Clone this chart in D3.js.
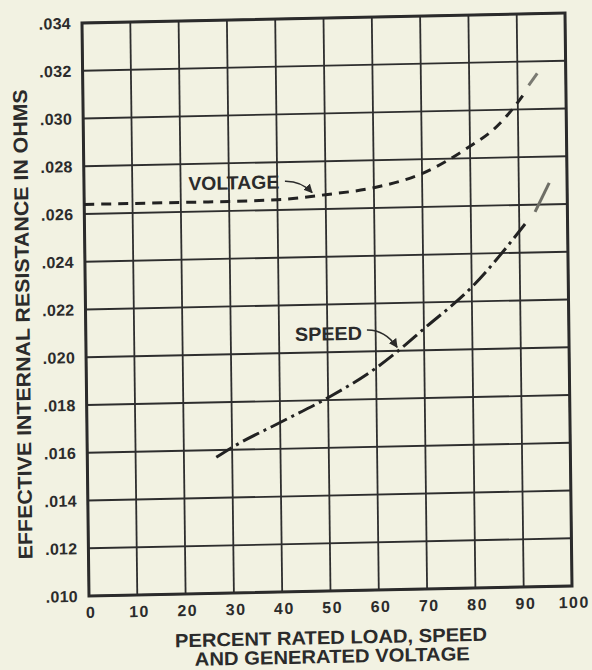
<!DOCTYPE html>
<html>
<head>
  <script type="text/javascript" src="https://cdn.jsdelivr.net/npm/d3@7/dist/d3.min.js" charset="UTF-8"></script>
  <title>Effective internal resistance</title>
  <style>
    body { margin: 0; background: #f2f2e2; }
    text { font-family: "Liberation Sans", Arial, sans-serif; font-weight: bold; fill: #2b2b2b; }
  </style>
</head>

<body>

<svg xmlns="http://www.w3.org/2000/svg" width="592" height="670"></svg>

<script type="text/javascript">

  // values
  var loadTicks = [ 0, 10, 20, 30, 40, 50, 60, 70, 80, 90, 100 ];
  var ohmTicks = [ .010, .012, .014, .016, .018, .020, .022, .024, .026, .028, .030, .032, .034 ];
  var ohmLabels = [ ".010", ".012", ".014", ".016", ".018", ".020", ".022", ".024", ".026", ".028", ".030", ".032", ".034" ];

  var voltageLoad = [ 0, 10, 20, 30, 40, 50, 60, 70, 80, 85, 90, 91.5 ];
  var voltageOhms = [ .0264, .0264, .0264, .0264, .02643, .0266, .02685, .0274, .0285, .0292, .0303, .0307 ];
  // faint pencilled continuation at the top end
  var voltageTailLoad = [ 92.3, 94.1 ];
  var voltageTailOhms = [ .0310, .0315 ];

  var speedLoad = [ 26.7, 30, 40, 50, 60, 64, 70, 80, 90, 91.2 ];
  var speedOhms = [ .0157, .0161, .0171, .0181, .0193, .0199, .0209, .0226, .0249, .0252 ];
  var speedTailLoad = [ 93.3, 96.3 ];
  var speedTailOhms = [ .0257, .0269 ];

  var width = 483, height = 573;

  var svg = d3.select( "svg" );

  // the printed grid sits a little askew on the page
  var plot = svg.append( "g" )
      .attr( "transform", "matrix(1,-0.0207,0.0122,1,82,23)" );

  var x = d3.scaleLinear().domain( [ 0, 100 ] ).range( [ 0, width ] );
  var y = d3.scaleLinear().domain( [ .010, .034 ] ).range( [ height, 0 ] );

  function zip( xs, ys )
  {
    return xs.map( function ( v, i ) { return [ v, ys[i] ]; } );
  }

  var line = d3.line()
      .x( function ( d ) { return x( d[0] ); } )
      .y( function ( d ) { return y( d[1] ); } )
      .curve( d3.curveMonotoneX );

  // grid
  plot.selectAll( "line.vgrid" ).data( loadTicks ).enter()
      .append( "line" )
      .attr( "class", "vgrid" )
      .attr( "x1", function ( d ) { return x( d ); } )
      .attr( "x2", function ( d ) { return x( d ); } )
      .attr( "y1", 0 )
      .attr( "y2", height )
      .attr( "stroke", "#2e2e2e" )
      .attr( "stroke-width", 1.8 );

  plot.selectAll( "line.hgrid" ).data( ohmTicks ).enter()
      .append( "line" )
      .attr( "class", "hgrid" )
      .attr( "x1", 0 )
      .attr( "x2", width )
      .attr( "y1", function ( d ) { return y( d ); } )
      .attr( "y2", function ( d ) { return y( d ); } )
      .attr( "stroke", "#2e2e2e" )
      .attr( "stroke-width", 1.8 );

  plot.append( "rect" )
      .attr( "x", 0 )
      .attr( "y", 0 )
      .attr( "width", width )
      .attr( "height", height )
      .attr( "fill", "none" )
      .attr( "stroke", "#2b2b2b" )
      .attr( "stroke-width", 3 );

  // tick labels
  plot.selectAll( "text.ylab" ).data( ohmTicks ).enter()
      .append( "text" )
      .attr( "class", "ylab" )
      .attr( "x", -11 )
      .attr( "y", function ( d ) { return y( d ); } )
      .attr( "dy", "0.36em" )
      .attr( "text-anchor", "end" )
      .attr( "font-size", 16 )
      .attr( "letter-spacing", 0.3 )
      .text( function ( d, i ) { return ohmLabels[i]; } );

  plot.selectAll( "text.xlab" ).data( loadTicks ).enter()
      .append( "text" )
      .attr( "class", "xlab" )
      .attr( "x", function ( d ) { return x( d ) + 2; } )
      .attr( "y", height + 22 )
      .attr( "text-anchor", "middle" )
      .attr( "font-size", 16 )
      .attr( "letter-spacing", 1.5 )
      .text( function ( d ) { return d; } );

  // axis titles
  plot.append( "text" )
      .attr( "x", width / 2 )
      .attr( "y", height + 53 )
      .attr( "text-anchor", "middle" )
      .attr( "font-size", 19 )
      .attr( "textLength", 312 )
      .attr( "lengthAdjust", "spacingAndGlyphs" )
      .text( "PERCENT RATED LOAD, SPEED" );

  plot.append( "text" )
      .attr( "x", width / 2 + 1 )
      .attr( "y", height + 72 )
      .attr( "text-anchor", "middle" )
      .attr( "font-size", 19 )
      .attr( "textLength", 275 )
      .attr( "lengthAdjust", "spacingAndGlyphs" )
      .text( "AND GENERATED VOLTAGE" );

  plot.append( "text" )
      .attr( "transform", "translate(-56,300) rotate(-90)" )
      .attr( "text-anchor", "middle" )
      .attr( "font-size", 20 )
      .attr( "textLength", 470 )
      .attr( "lengthAdjust", "spacingAndGlyphs" )
      .text( "EFFECTIVE INTERNAL RESISTANCE IN OHMS" );

  // curves
  plot.append( "path" )
      .attr( "d", line( zip( voltageLoad, voltageOhms ) ) )
      .attr( "fill", "none" )
      .attr( "stroke", "#222" )
      .attr( "stroke-width", 3 )
      .attr( "stroke-dasharray", "10,7" );

  plot.append( "path" )
      .attr( "d", line( zip( voltageTailLoad, voltageTailOhms ) ) )
      .attr( "fill", "none" )
      .attr( "stroke", "#7a7a72" )
      .attr( "stroke-width", 3 );

  plot.append( "path" )
      .attr( "d", line( zip( speedLoad, speedOhms ) ) )
      .attr( "fill", "none" )
      .attr( "stroke", "#222" )
      .attr( "stroke-width", 3 )
      .attr( "stroke-dasharray", "18,5,3,5" );

  plot.append( "path" )
      .attr( "d", line( zip( speedTailLoad, speedTailOhms ) ) )
      .attr( "fill", "none" )
      .attr( "stroke", "#6e6e66" )
      .attr( "stroke-width", 3 );

  // labels with leader arrows
  svg.append( "defs" ).append( "marker" )
      .attr( "id", "head" )
      .attr( "viewBox", "0 0 10 10" )
      .attr( "refX", 9 )
      .attr( "refY", 5 )
      .attr( "markerWidth", 9 )
      .attr( "markerHeight", 9 )
      .attr( "markerUnits", "userSpaceOnUse" )
      .attr( "orient", "auto" )
      .append( "path" )
      .attr( "d", "M0,0 L10,5 L0,10 z" )
      .attr( "fill", "#2b2b2b" );

  var notes = [
    { text: "VOLTAGE", at: [ 21.6, .0269 ], len: 91, from: [ 41.6, .0272 ], to: [ 47.2, .0267 ] },
    { text: "SPEED", at: [ 43.3, .0205 ], len: 67, from: [ 58.2, .0209 ], to: [ 64.4, .02015 ] }
  ];

  plot.selectAll( "text.note" ).data( notes ).enter()
      .append( "text" )
      .attr( "class", "note" )
      .attr( "x", function ( d ) { return x( d.at[0] ); } )
      .attr( "y", function ( d ) { return y( d.at[1] ); } )
      .attr( "font-size", 19 )
      .attr( "textLength", function ( d ) { return d.len; } )
      .attr( "lengthAdjust", "spacingAndGlyphs" )
      .text( function ( d ) { return d.text; } );

  plot.selectAll( "path.leader" ).data( notes ).enter()
      .append( "path" )
      .attr( "class", "leader" )
      .attr( "fill", "none" )
      .attr( "stroke", "#2b2b2b" )
      .attr( "stroke-width", 1.6 )
      .attr( "marker-end", "url(#head)" )
      .attr( "d", function ( d )
      {
        var x0 = x( d.from[0] ), y0 = y( d.from[1] );
        var x1 = x( d.to[0] ), y1 = y( d.to[1] );
        return [ "M", x0, y0, "Q", x0 + ( x1 - x0 ) * 0.6, y0, x1, y1 ].join( " " );
      } );
</script>

</body>
</html>
